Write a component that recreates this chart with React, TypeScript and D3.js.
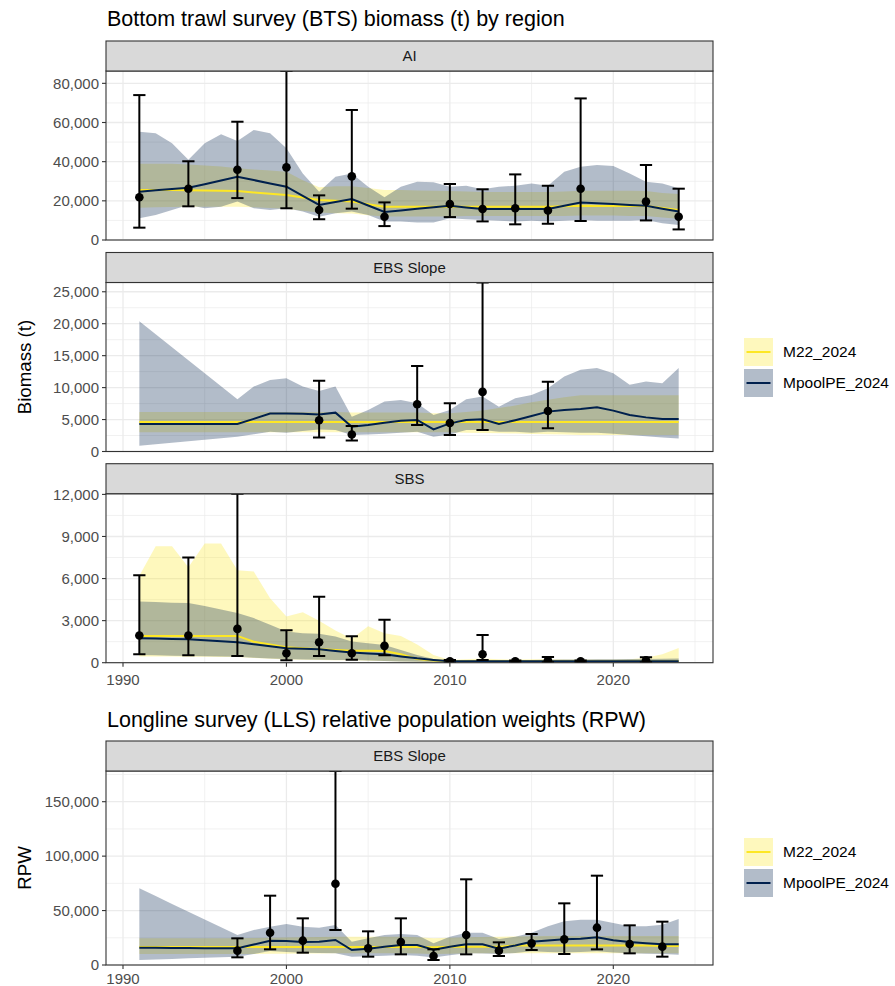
import React from 'react';
import * as d3 from 'd3';

// ---------- shared ----------
const modelYears = [1991, 1992, 1993, 1994, 1995, 1996, 1997, 1998, 1999, 2000, 2001, 2002, 2003, 2004, 2005, 2006, 2007, 2008, 2009, 2010, 2011, 2012, 2013, 2014, 2015, 2016, 2017, 2018, 2019, 2020, 2021, 2022, 2023, 2024];
const xTicks = [1990, 2000, 2010, 2020];
const xMinor = [1995, 2005, 2015, 2025];
const seriesNames = ['M22_2024', 'MpoolPE_2024'];

// ---------- BTS: AI ----------
const aiSurveyYears = [1991, 1994, 1997, 2000, 2002, 2004, 2006, 2010, 2012, 2014, 2016, 2018, 2022, 2024];
const aiObs = [21800, 26200, 35900, 37100, 15300, 32500, 11900, 18400, 15800, 16200, 15100, 26200, 19600, 11900];
const aiObsLo = [6300, 17200, 21400, 16200, 10600, 16000, 7100, 11700, 9500, 8000, 8300, 9700, 10000, 5400];
const aiObsHi = [74000, 40200, 60400, 86300, 22800, 66400, 19200, 28600, 25900, 33500, 27700, 72300, 38300, 26200];
const aiPool = [24700, 25400, 26000, 26700, 28500, 30400, 32300, 30600, 28900, 27200, 22500, 17900, 19400, 20900, 17600, 14300, 15100, 15900, 16700, 17500, 16600, 15800, 15800, 15800, 15800, 15800, 17500, 19200, 18800, 18400, 17900, 17500, 16000, 14500];
const aiPoolHi = [55300, 54500, 49400, 41000, 49400, 54000, 50500, 56200, 54500, 46800, 34000, 24700, 32300, 34000, 27200, 21800, 27200, 29800, 29500, 27200, 27700, 25900, 27200, 27700, 28900, 27700, 34900, 37400, 38300, 37800, 34000, 29800, 28900, 26400];
const aiPoolLo = [11100, 12800, 15300, 17900, 16200, 17000, 19600, 16200, 15300, 16200, 14500, 11900, 13600, 14500, 12800, 9400, 9400, 8900, 8900, 11100, 10600, 10200, 9800, 9400, 9800, 9400, 9800, 10200, 9800, 9800, 9800, 10200, 8500, 7600];
const aiM22 = [25500, 25500, 25500, 25400, 25300, 25200, 25000, 24300, 23600, 23000, 21700, 20400, 20000, 19600, 18300, 17000, 17000, 17000, 17000, 17000, 17000, 17000, 17000, 17000, 17000, 17000, 17200, 17500, 17300, 17300, 17300, 17300, 16300, 15300];
const aiM22Hi = [39000, 39000, 39000, 38500, 38000, 37500, 36600, 36000, 35500, 34900, 30500, 27000, 27500, 27500, 26500, 25500, 25500, 25300, 25200, 25000, 24800, 24500, 24500, 24500, 24500, 24500, 24800, 25200, 25200, 25200, 25200, 25000, 24000, 23500];
const aiM22Lo = [16500, 16700, 16900, 17000, 17000, 17000, 17000, 16700, 16300, 16000, 15000, 14000, 13700, 13500, 12700, 12000, 12000, 12000, 12000, 12000, 12200, 12300, 12300, 12300, 12300, 12300, 12300, 12500, 12500, 12500, 12300, 12200, 11500, 10800];
const aiYTicks = [0, 20000, 40000, 60000, 80000];
const aiYMinor = [10000, 30000, 50000, 70000];

// ---------- BTS: EBS Slope ----------
const ebsSurveyYears = [2002, 2004, 2008, 2010, 2012, 2016];
const ebsObs = [4900, 2670, 7390, 4450, 9330, 6340];
const ebsObsLo = [2200, 1730, 4140, 2570, 3350, 3620];
const ebsObsHi = [11060, 3980, 13400, 7550, 26450, 10900];
const ebsPool = [4300, 4300, 4300, 4300, 4300, 4300, 4300, 5100, 5950, 5950, 5900, 5800, 6080, 3880, 4140, 4500, 4820, 4930, 3460, 4400, 4930, 5030, 4300, 4900, 5550, 6240, 6500, 6650, 6920, 6400, 5710, 5340, 5080, 5080];
const ebsPoolHi = [20380, 18350, 16300, 14270, 12240, 10200, 8170, 10170, 11210, 11480, 10170, 9480, 10170, 5450, 6500, 7810, 8070, 7550, 5710, 6500, 8170, 8600, 7020, 8330, 8860, 9900, 11740, 12790, 13050, 12260, 10430, 10950, 10690, 13050];
const ebsPoolLo = [890, 1130, 1370, 1600, 1830, 2070, 2300, 2700, 3090, 2930, 3200, 3460, 3350, 2570, 2670, 2780, 2930, 3090, 2300, 2670, 3350, 3350, 3090, 3090, 2930, 3090, 3000, 2930, 2930, 2780, 2570, 2400, 2200, 2040];
const ebsM22 = [4600, 4600, 4600, 4600, 4600, 4600, 4600, 4600, 4600, 4600, 4600, 4600, 4600, 4600, 4600, 4600, 4600, 4600, 4600, 4600, 4600, 4600, 4600, 4600, 4600, 4600, 4600, 4600, 4600, 4600, 4600, 4600, 4600, 4600];
const ebsM22Hi = [6200, 6200, 6200, 6200, 6200, 6200, 6200, 6200, 6200, 6200, 6200, 6200, 6200, 6100, 6100, 6100, 6100, 6100, 6000, 6000, 6200, 6400, 6800, 7200, 7700, 8100, 8500, 8800, 8800, 8800, 8800, 8800, 8800, 8800];
const ebsM22Lo = [3000, 3000, 3000, 3000, 3000, 3000, 3000, 3000, 3000, 3000, 3000, 3000, 3000, 3000, 3000, 3000, 3000, 3000, 3000, 3000, 2950, 2900, 2850, 2800, 2750, 2700, 2650, 2600, 2600, 2600, 2600, 2600, 2600, 2600];
const ebsYTicks = [0, 5000, 10000, 15000, 20000, 25000];
const ebsYMinor = [2500, 7500, 12500, 17500, 22500];

// ---------- BTS: SBS ----------
const sbsSurveyYears = [1991, 1994, 1997, 2000, 2002, 2004, 2006, 2010, 2012, 2014, 2016, 2018, 2022];
const sbsObs = [1940, 1940, 2410, 670, 1460, 670, 1200, 100, 600, 100, 170, 100, 170];
const sbsObsLo = [600, 530, 480, 170, 480, 215, 530, 20, 190, 40, 25, 40, 25];
const sbsObsHi = [6240, 7500, 12050, 2320, 4710, 1890, 3060, 190, 1980, 150, 400, 150, 380];
const sbsPool = [1740, 1720, 1690, 1670, 1600, 1530, 1460, 1320, 1170, 1030, 1000, 960, 840, 720, 660, 600, 450, 310, 200, 100, 110, 110, 110, 110, 110, 110, 110, 110, 110, 110, 110, 110, 110, 110];
const sbsPoolHi = [4370, 4320, 4280, 4250, 4050, 3800, 3540, 3180, 2700, 2220, 2100, 2060, 1860, 1510, 1390, 1270, 910, 550, 260, 150, 160, 180, 180, 190, 200, 210, 220, 230, 240, 250, 260, 270, 280, 300];
const sbsPoolLo = [550, 530, 500, 480, 460, 440, 430, 360, 300, 260, 230, 210, 200, 190, 150, 120, 90, 70, 45, 30, 30, 30, 30, 30, 30, 30, 30, 30, 30, 30, 30, 30, 30, 30];
const sbsM22 = [1910, 1910, 1910, 1910, 1910, 1910, 1910, 1500, 1300, 1100, 1030, 960, 900, 860, 850, 840, 600, 260, 150, 100, 100, 100, 100, 100, 100, 100, 100, 100, 100, 100, 100, 100, 100, 110];
const sbsM22Hi = [6200, 8300, 8300, 6800, 8500, 8500, 6600, 6500, 4600, 3300, 3600, 3000, 2300, 1700, 2600, 2100, 1900, 1300, 550, 200, 250, 300, 250, 220, 250, 250, 230, 220, 220, 230, 250, 350, 600, 1050];
const sbsM22Lo = [450, 450, 440, 430, 420, 410, 400, 340, 280, 230, 210, 200, 180, 170, 140, 120, 90, 60, 40, 25, 25, 25, 25, 25, 25, 25, 25, 25, 25, 25, 25, 25, 25, 25];
const sbsYTicks = [0, 3000, 6000, 9000, 12000];
const sbsYMinor = [1500, 4500, 7500, 10500];

// ---------- LLS: EBS Slope ----------
const llsSurveyYears = [1997, 1999, 2001, 2003, 2005, 2007, 2009, 2011, 2013, 2015, 2017, 2019, 2021, 2023];
const llsObs = [13160, 29690, 22350, 74690, 15300, 21120, 8300, 27560, 13160, 19900, 23570, 34290, 19290, 16840];
const llsObsLo = [7040, 14390, 11330, 32140, 7650, 9800, 4590, 9800, 8270, 13780, 10100, 14400, 10710, 7650];
const llsObsHi = [24490, 63670, 42850, 178200, 30920, 42850, 14400, 78700, 20820, 28470, 56640, 82050, 36430, 39800];
const llsPool = [15900, 15800, 15700, 15600, 15500, 15400, 15300, 18800, 22350, 22000, 21100, 21400, 22960, 13770, 15000, 16840, 18370, 18370, 14000, 16800, 18980, 18980, 15000, 18000, 21430, 22500, 23570, 24200, 25400, 22700, 21120, 19900, 18980, 18980];
const llsPoolHi = [70400, 63300, 56100, 49000, 41800, 34700, 27550, 32140, 35200, 37650, 35200, 34280, 36730, 21430, 24490, 27550, 28470, 27560, 19900, 26000, 29700, 29700, 23900, 26000, 29700, 35500, 40100, 41600, 41600, 38600, 35500, 35500, 37000, 42200];
const llsPoolLo = [4590, 5100, 5600, 6100, 6600, 7100, 7650, 10000, 12860, 12000, 11330, 11000, 10700, 7650, 8000, 8500, 9180, 8500, 7000, 9000, 10710, 10500, 10000, 11000, 12550, 12000, 11500, 12000, 12550, 11500, 10710, 10300, 10000, 9500];
const llsM22 = [16500, 16500, 16500, 16500, 16500, 16500, 16500, 16500, 16500, 16500, 16500, 16500, 16500, 16500, 16500, 16500, 16500, 16500, 16300, 16800, 16800, 16800, 16800, 18000, 18000, 18000, 18000, 18000, 18000, 18000, 18000, 18000, 17500, 17500];
const llsM22Hi = [24500, 24500, 24500, 24500, 24500, 24500, 24500, 24800, 25000, 25200, 25500, 25800, 26000, 26000, 26000, 26000, 26000, 25500, 24500, 25000, 25500, 25800, 26000, 26200, 26500, 26600, 26600, 26600, 26600, 26600, 26600, 26600, 26600, 26600];
const llsM22Lo = [10100, 10100, 10100, 10100, 10100, 10100, 10100, 10200, 10300, 10400, 10500, 10600, 10700, 10700, 10700, 10700, 10700, 10500, 10000, 10300, 10700, 10700, 10700, 10700, 10700, 10700, 10700, 10700, 10700, 10700, 10700, 10700, 10700, 10700];
const llsYTicks = [0, 50000, 100000, 150000];
const llsYMinor = [25000, 75000, 125000, 175000];

// ---------- style ----------
const FONT = '"Liberation Sans", Arial, "DejaVu Sans", sans-serif';
const M22_COLOR = '#FDE725';
const POOL_COLOR = '#00204D';
const GRID = '#EBEBEB';
const BORDER = '#333333';
const PANEL_L = 106;
const PANEL_R = 713;
const fmt = d3.format(',');

const xScale = d3.scaleLinear().domain([1988.96, 2026.1]).range([PANEL_L, PANEL_R]);

type PanelProps = {
  id: string;
  label: string;
  stripTop: number;
  plotH: number;
  yTicks: number[];
  yMinor: number[];
  obsYears: number[];
  obs: number[];
  obsLo: number[];
  obsHi: number[];
  m22: number[];
  m22Lo: number[];
  m22Hi: number[];
  pool: number[];
  poolLo: number[];
  poolHi: number[];
  showX: boolean;
  xLabelOffset?: number;
};

function Panel(p: PanelProps) {
  const stripH = 30;
  const plotTop = p.stripTop + stripH;
  const plotBottom = plotTop + p.plotH;
  const yMax = d3.max([...p.obsHi, ...p.m22Hi, ...p.poolHi]) as number;
  const y = d3.scaleLinear().domain([0, yMax]).range([plotBottom, plotTop]);
  const x = xScale;

  const ribbon = (lo: number[], hi: number[]) =>
    d3
      .area<number>()
      .x((d) => x(d))
      .y0((_, i) => y(lo[i]))
      .y1((_, i) => y(hi[i]))(modelYears) as string;
  const line = (v: number[]) =>
    d3
      .line<number>()
      .x((d) => x(d))
      .y((_, i) => y(v[i]))(modelYears) as string;

  const capHalf = (x(1) - x(0)) * 0.375;
  const clipId = `clip-${p.id}`;
  const xLabOff = p.xLabelOffset ?? 22;

  return (
    <g>
      <defs>
        <clipPath id={clipId}>
          <rect x={PANEL_L} y={plotTop} width={PANEL_R - PANEL_L} height={p.plotH} />
        </clipPath>
      </defs>
      <rect x={PANEL_L} y={plotTop} width={PANEL_R - PANEL_L} height={p.plotH} fill="#fff" />
      {/* grid */}
      {p.yMinor.filter((t) => t <= yMax).map((t) => (
        <line key={'ym' + t} x1={PANEL_L} x2={PANEL_R} y1={y(t)} y2={y(t)} stroke={GRID} strokeWidth={0.7} />
      ))}
      {xMinor.map((t) => (
        <line key={'xm' + t} x1={x(t)} x2={x(t)} y1={plotTop} y2={plotBottom} stroke={GRID} strokeWidth={0.7} />
      ))}
      {p.yTicks.map((t) => (
        <line key={'yM' + t} x1={PANEL_L} x2={PANEL_R} y1={y(t)} y2={y(t)} stroke={GRID} strokeWidth={1.3} />
      ))}
      {xTicks.map((t) => (
        <line key={'xM' + t} x1={x(t)} x2={x(t)} y1={plotTop} y2={plotBottom} stroke={GRID} strokeWidth={1.3} />
      ))}
      <g clipPath={`url(#${clipId})`}>
        <path d={ribbon(p.m22Lo, p.m22Hi)} fill={M22_COLOR} fillOpacity={0.3} />
        <path d={ribbon(p.poolLo, p.poolHi)} fill={POOL_COLOR} fillOpacity={0.3} />
        <path d={line(p.m22)} fill="none" stroke={M22_COLOR} strokeWidth={2} />
        <path d={line(p.pool)} fill="none" stroke={POOL_COLOR} strokeWidth={2} />
        {p.obsYears.map((yr, i) => (
          <g key={'e' + yr} stroke="#000" strokeWidth={2}>
            <line x1={x(yr)} x2={x(yr)} y1={y(p.obsLo[i])} y2={y(p.obsHi[i])} />
            <line x1={x(yr) - capHalf} x2={x(yr) + capHalf} y1={y(p.obsLo[i])} y2={y(p.obsLo[i])} />
            <line x1={x(yr) - capHalf} x2={x(yr) + capHalf} y1={y(p.obsHi[i])} y2={y(p.obsHi[i])} />
          </g>
        ))}
        {p.obsYears.map((yr, i) => (
          <circle key={'p' + yr} cx={x(yr)} cy={y(p.obs[i])} r={4.3} fill="#000" />
        ))}
      </g>
      <rect x={PANEL_L} y={plotTop} width={PANEL_R - PANEL_L} height={p.plotH} fill="none" stroke={BORDER} strokeWidth={1.1} />
      {/* strip */}
      <rect x={PANEL_L} y={p.stripTop} width={PANEL_R - PANEL_L} height={stripH} fill="#D9D9D9" stroke={BORDER} strokeWidth={1.1} />
      <text x={(PANEL_L + PANEL_R) / 2} y={p.stripTop + stripH / 2 + 5.3} textAnchor="middle" fontSize={15} fill="#1A1A1A" fontFamily={FONT}>
        {p.label}
      </text>
      {/* y axis */}
      {p.yTicks.map((t) => (
        <g key={'yt' + t}>
          <line x1={PANEL_L - 4} x2={PANEL_L} y1={y(t)} y2={y(t)} stroke={BORDER} strokeWidth={1.1} />
          <text x={PANEL_L - 7} y={y(t) + 5.2} textAnchor="end" fontSize={15} fill="#4D4D4D" fontFamily={FONT}>
            {fmt(t)}
          </text>
        </g>
      ))}
      {p.showX &&
        xTicks.map((t) => (
          <g key={'xt' + t}>
            <line x1={x(t)} x2={x(t)} y1={plotBottom} y2={plotBottom + 4} stroke={BORDER} strokeWidth={1.1} />
            <text x={x(t)} y={plotBottom + xLabOff} textAnchor="middle" fontSize={15} fill="#4D4D4D" fontFamily={FONT}>
              {t}
            </text>
          </g>
        ))}
    </g>
  );
}

function Legend({ top }: { top: number }) {
  const keyX = 744;
  const keyW = 29;
  const keyH = 28;
  const gap = 3;
  const fills = [M22_COLOR, POOL_COLOR];
  return (
    <g>
      {seriesNames.map((name, i) => {
        const ky = top + i * (keyH + gap);
        return (
          <g key={name}>
            <rect x={keyX} y={ky} width={keyW} height={keyH} fill={fills[i]} fillOpacity={0.3} />
            <line x1={keyX + 2.5} x2={keyX + keyW - 2.5} y1={ky + keyH / 2} y2={ky + keyH / 2} stroke={fills[i]} strokeWidth={2} />
            <text x={783} y={ky + keyH / 2 + 5.3} fontSize={15.5} fill="#000" fontFamily={FONT}>
              {name}
            </text>
          </g>
        );
      })}
    </g>
  );
}

export default function App() {
  return (
    <svg width={895} height={986} style={{ position: 'absolute', left: 0, top: 0, background: '#fff' }}>
      <rect x={0} y={0} width={895} height={986} fill="#fff" />
      <text x={107} y={26} fontSize={21.5} fill="#000" fontFamily={FONT}>
        Bottom trawl survey (BTS) biomass (t) by region
      </text>
      <Panel id="ai" label="AI" stripTop={41} plotH={169} yTicks={aiYTicks} yMinor={aiYMinor}
        obsYears={aiSurveyYears} obs={aiObs} obsLo={aiObsLo} obsHi={aiObsHi}
        m22={aiM22} m22Lo={aiM22Lo} m22Hi={aiM22Hi} pool={aiPool} poolLo={aiPoolLo} poolHi={aiPoolHi} showX={false} />
      <Panel id="ebs" label="EBS Slope" stripTop={252.5} plotH={169} yTicks={ebsYTicks} yMinor={ebsYMinor}
        obsYears={ebsSurveyYears} obs={ebsObs} obsLo={ebsObsLo} obsHi={ebsObsHi}
        m22={ebsM22} m22Lo={ebsM22Lo} m22Hi={ebsM22Hi} pool={ebsPool} poolLo={ebsPoolLo} poolHi={ebsPoolHi} showX={false} />
      <Panel id="sbs" label="SBS" stripTop={463.7} plotH={169} yTicks={sbsYTicks} yMinor={sbsYMinor}
        obsYears={sbsSurveyYears} obs={sbsObs} obsLo={sbsObsLo} obsHi={sbsObsHi}
        m22={sbsM22} m22Lo={sbsM22Lo} m22Hi={sbsM22Hi} pool={sbsPool} poolLo={sbsPoolLo} poolHi={sbsPoolHi} showX={true} />
      <text transform="translate(31,367) rotate(-90)" textAnchor="middle" fontSize={18.7} fill="#000" fontFamily={FONT}>
        Biomass (t)
      </text>
      <Legend top={338} />

      <text x={107} y={726.5} fontSize={21.5} fill="#000" fontFamily={FONT}>
        Longline survey (LLS) relative population weights (RPW)
      </text>
      <Panel id="lls" label="EBS Slope" stripTop={741} plotH={194} yTicks={llsYTicks} yMinor={llsYMinor}
        obsYears={llsSurveyYears} obs={llsObs} obsLo={llsObsLo} obsHi={llsObsHi}
        m22={llsM22} m22Lo={llsM22Lo} m22Hi={llsM22Hi} pool={llsPool} poolLo={llsPoolLo} poolHi={llsPoolHi} showX={true} xLabelOffset={18.5} />
      <text transform="translate(31,868) rotate(-90)" textAnchor="middle" fontSize={18.7} fill="#000" fontFamily={FONT}>
        RPW
      </text>
      <Legend top={838} />
    </svg>
  );
}
